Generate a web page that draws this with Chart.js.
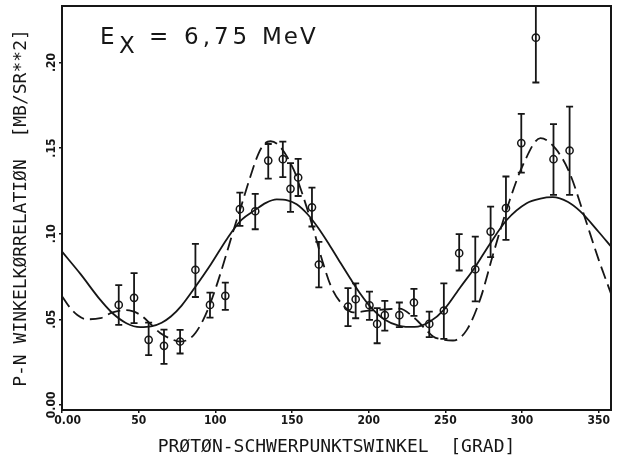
<!DOCTYPE html>
<html>
<head>
<meta charset="utf-8">
<script src="https://cdn.jsdelivr.net/npm/chart.js@4/dist/chart.umd.min.js"></script>
<style>
  html, body { margin: 0; padding: 0; background: #ffffff; }
  canvas { display: block; }
</style>
</head>
<body>
<canvas id="c" width="622" height="466"></canvas>
<script>
// ---- measured data (angle in degrees, correlation in mb/sr^2) ----
const angles  = [37, 47, 56.5, 66.5, 77, 87, 96.5, 106.5, 116, 126, 134.5, 144, 149, 154, 163, 167.5,
                 186.5, 191.5, 200.5, 205.5, 210.5, 220, 229.5, 239.5, 249, 259, 269.5, 279.5, 289.5, 299.5, 309, 320.5, 331];
const values  = [0.0584, 0.0625, 0.038, 0.0345, 0.037, 0.0789, 0.0584, 0.0637, 0.1143, 0.1131, 0.1427, 0.1435, 0.1262, 0.1328, 0.1154, 0.082,
                 0.0574, 0.0617, 0.0582, 0.0473, 0.0524, 0.0524, 0.0598, 0.0473, 0.0551, 0.0886, 0.0792, 0.1012, 0.1149, 0.1529, 0.2145, 0.1435, 0.1486];
const errLow  = [0.0467, 0.0477, 0.029, 0.024, 0.030, 0.063, 0.051, 0.0555, 0.1046, 0.1026, 0.1322, 0.133, 0.1127, 0.122, 0.1042, 0.0686,
                 0.046, 0.0506, 0.0496, 0.036, 0.0434, 0.0454, 0.052, 0.0396, 0.0385, 0.0785, 0.0604, 0.0863, 0.0964, 0.1357, 0.1883, 0.1227, 0.1227];
const errHigh = [0.070, 0.077, 0.048, 0.044, 0.0438, 0.094, 0.0656, 0.0714, 0.124, 0.1232, 0.1524, 0.1538, 0.1412, 0.1437, 0.1269, 0.0952,
                 0.0682, 0.071, 0.0662, 0.0565, 0.0607, 0.0598, 0.0678, 0.0545, 0.071, 0.0997, 0.0983, 0.1158, 0.1334, 0.170, 0.241, 0.164, 0.1742];

// ---- solid fit curve ----
const solidAngles = [0, 12, 25, 33, 42, 51, 58, 65, 71, 78, 87, 97, 108, 117, 126, 133, 140, 147, 153, 160, 167, 174,
                     181, 188, 195, 201, 210, 220, 230, 240, 249, 260, 269, 279, 290, 303, 312, 320, 330, 338, 350, 358];
const solidValues = [0.0895, 0.0765, 0.0613, 0.0535, 0.0477, 0.0454, 0.0458, 0.048, 0.0516, 0.058, 0.069, 0.082, 0.0975,
                     0.108, 0.1139, 0.118, 0.120, 0.1195, 0.1172, 0.1115, 0.1035, 0.094, 0.0838, 0.0738, 0.0643, 0.0574, 0.050,
                     0.0462, 0.0455, 0.0487, 0.0555, 0.069, 0.080, 0.094, 0.108, 0.1178, 0.1205, 0.1213, 0.1185, 0.113, 0.101, 0.0925];

// ---- dashed fit curve ----
const dashAngles = [0, 5, 10, 16, 25, 33, 42, 51, 58, 64, 70, 77, 83, 87, 92, 97, 102, 107, 112, 117, 122, 128, 132, 136, 142,
                    151, 157, 164, 170, 176, 183, 190, 200, 210, 220, 230, 242, 249, 255, 264, 273, 281, 292, 301, 312, 322, 331, 340, 350, 358];
const dashValues = [0.0635, 0.057, 0.0525, 0.050, 0.0506, 0.054, 0.0553, 0.0526, 0.047, 0.042, 0.039, 0.037, 0.0385, 0.042, 0.0495,
                    0.060, 0.073, 0.0875, 0.1025, 0.1165, 0.131, 0.1465, 0.1525, 0.154, 0.151, 0.1375, 0.1225, 0.1025, 0.0835, 0.068,
                    0.0585, 0.054, 0.055, 0.0557, 0.0562, 0.0506, 0.040, 0.038, 0.0376, 0.0438, 0.0625, 0.0876, 0.1197, 0.141, 0.1558,
                    0.1495, 0.1355, 0.112, 0.0847, 0.065];

const xTitle = 'PRØTØN-SCHWERPUNKTSWINKEL  [GRAD]';
const yTitle = 'P-N WINKELKØRRELATIØN  [MB/SR**2]';

const INK = '#161616';
const TICK_FONT = { family: "'DejaVu Sans Condensed', 'DejaVu Sans', sans-serif", size: 12, weight: 'bold' };
const TITLE_FONT = { family: "'DejaVu Sans Mono', monospace", size: 18 };

const toXY = (xs, ys) => xs.map((v, i) => ({ x: v, y: ys[i] }));

const whiteBg = {
  id: 'whiteBg',
  beforeDraw(chart) {
    const { ctx, width, height } = chart;
    ctx.save();
    ctx.fillStyle = '#ffffff';
    ctx.fillRect(0, 0, width, height);
    ctx.restore();
  }
};

const errorBars = {
  id: 'errorBars',
  beforeDatasetsDraw(chart) {
    const { ctx, chartArea: a, scales: { x, y } } = chart;
    ctx.save();
    ctx.beginPath();
    ctx.rect(a.left, a.top, a.right - a.left, a.bottom - a.top);
    ctx.clip();
    ctx.strokeStyle = INK;
    ctx.lineWidth = 1.8;
    for (let i = 0; i < angles.length; i++) {
      const px = x.getPixelForValue(angles[i]);
      const lo = y.getPixelForValue(errLow[i]);
      const hi = y.getPixelForValue(errHigh[i]);
      ctx.beginPath();
      ctx.moveTo(px, lo); ctx.lineTo(px, hi);
      ctx.moveTo(px - 3.5, lo); ctx.lineTo(px + 3.5, lo);
      ctx.moveTo(px - 3.5, hi); ctx.lineTo(px + 3.5, hi);
      ctx.stroke();
    }
    ctx.restore();
  }
};

const frameAndLabel = {
  id: 'frameAndLabel',
  afterDraw(chart) {
    const { ctx, chartArea: a } = chart;
    ctx.save();
    ctx.strokeStyle = INK;
    ctx.lineWidth = 2;
    ctx.strokeRect(a.left, a.top, a.right - a.left, a.bottom - a.top);
    ctx.fillStyle = INK;
    ctx.textBaseline = 'alphabetic';
    ctx.textAlign = 'left';
    ctx.font = "23px 'DejaVu Sans', sans-serif";
    ctx.fillText('E', a.left + 38, a.top + 38);
    ctx.fillText('X', a.left + 57, a.top + 47);
    ctx.fillText('=', a.left + 87, a.top + 38);
    try { ctx.letterSpacing = '4px'; } catch (e) {}
    ctx.fillText('6,75', a.left + 122, a.top + 38);
    try { ctx.letterSpacing = '2px'; } catch (e) {}
    ctx.fillText('MeV', a.left + 200, a.top + 38);
    ctx.restore();
  }
};

new Chart(document.getElementById('c'), {
  type: 'scatter',
  data: {
    datasets: [
      {
        label: 'Messwerte',
        data: toXY(angles, values),
        showLine: false,
        pointStyle: 'circle',
        pointRadius: 3.6,
        pointBorderWidth: 1.5,
        pointBorderColor: INK,
        pointBackgroundColor: 'rgba(0,0,0,0)'
      },
      {
        label: 'Fit 1',
        data: toXY(solidAngles, solidValues),
        showLine: true,
        pointRadius: 0,
        borderColor: INK,
        borderWidth: 1.8,
        cubicInterpolationMode: 'monotone',
        fill: false
      },
      {
        label: 'Fit 2',
        data: toXY(dashAngles, dashValues),
        showLine: true,
        pointRadius: 0,
        borderColor: INK,
        borderWidth: 1.8,
        borderDash: [13, 6],
        cubicInterpolationMode: 'monotone',
        fill: false
      }
    ]
  },
  options: {
    responsive: false,
    animation: false,
    devicePixelRatio: 1,
    layout: { padding: { top: 6, right: 11, left: 0, bottom: 0 } },
    plugins: {
      legend: { display: false },
      tooltip: { enabled: false }
    },
    scales: {
      x: {
        type: 'linear',
        min: 0,
        max: 358,
        afterFit: s => { s.height = 56; },
        border: { display: true, color: INK, width: 2 },
        grid: { display: true, drawOnChartArea: false, drawTicks: true, tickLength: 3, color: INK, lineWidth: 1.5 },
        ticks: {
          stepSize: 50,
          includeBounds: false,
          color: INK,
          font: TICK_FONT,
          padding: 1,
          maxRotation: 0,
          minRotation: 0,
          callback: v => (Math.abs(v) < 1e-9 ? '   0.00' : String(Math.round(v)))
        },
        title: {
          display: true,
          text: xTitle,
          color: INK,
          font: TITLE_FONT,
          padding: { top: 0, bottom: 8 }
        }
      },
      y: {
        type: 'linear',
        min: -0.003,
        max: 0.233,
        afterFit: s => { s.width = 62; },
        border: { display: true, color: INK, width: 2 },
        grid: { display: true, drawOnChartArea: false, drawTicks: true, tickLength: 3, color: INK, lineWidth: 1.5 },
        ticks: {
          stepSize: 0.05,
          includeBounds: false,
          color: INK,
          font: TICK_FONT,
          minRotation: 90,
          maxRotation: 90,
          crossAlign: 'center',
          padding: -6,
          callback: v => (Math.abs(v) < 1e-9 ? '0.00' : '.' + String(Math.round(v * 100)).padStart(2, '0'))
        },
        title: {
          display: true,
          text: yTitle,
          color: INK,
          font: TITLE_FONT,
          padding: { top: 11, bottom: 0 }
        }
      }
    }
  },
  plugins: [whiteBg, errorBars, frameAndLabel]
});
</script>
</body>
</html>
